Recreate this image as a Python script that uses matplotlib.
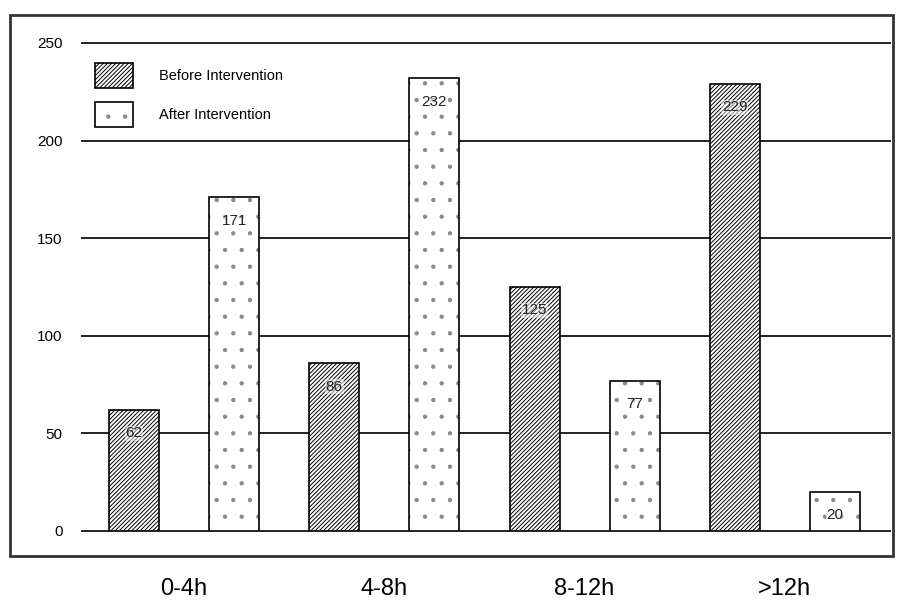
import numpy as np
import matplotlib
matplotlib.use("Agg")
import matplotlib.pyplot as plt
from matplotlib.patches import Rectangle, Patch

# ----------------------------
# Data
# ----------------------------
categories = ["0-4h", "4-8h", "8-12h", ">12h"]
before = [62, 86, 125, 229]
after = [171, 232, 77, 20]
yticks = [0, 50, 100, 150, 200, 250]

plt.rcParams.update({
    "font.family": ["Liberation Sans", "DejaVu Sans"],
    "hatch.linewidth": 0.7,
})

fig = plt.figure(figsize=(9.03, 6.09), dpi=100)
ax = fig.add_axes([82 / 903, 78 / 609, 808 / 903, 488 / 609])

x = np.arange(len(categories))
w = 0.25
HATCH_B = "////////"
HATCH_A = "."
DOT_C = "#8a8a8a"

b1 = ax.bar(x - w, before, width=w, facecolor="white", edgecolor="black",
            hatch=HATCH_B, linewidth=1.2, zorder=3)
# dotted fill drawn in grey, then a black outline on top
b2 = ax.bar(x + w, after, width=w, facecolor="white", edgecolor=DOT_C,
            hatch=HATCH_A, linewidth=0, zorder=3)
ax.bar(x + w, after, width=w, facecolor="none", edgecolor="black",
       linewidth=1.2, zorder=3.5)

# value labels near top of each bar
for bars, vals in [(b1, before), (b2, after)]:
    for rect, v in zip(bars, vals):
        ax.text(rect.get_x() + rect.get_width() / 2, v - 12, str(v),
                ha="center", va="center", fontsize=11, color="#222222", zorder=4,
                bbox=dict(facecolor="white", edgecolor="none", pad=0.5, alpha=0.5))

ax.set_xlim(-0.51, 3.525)
ax.set_ylim(0, 250)
ax.set_yticks(yticks)
ax.set_xticks(x)
ax.set_xticklabels(categories, fontsize=17)
ax.tick_params(axis="y", length=0, pad=14, labelsize=11)
ax.tick_params(axis="x", length=0, pad=34)
for s in ax.spines.values():
    s.set_visible(False)
ax.yaxis.grid(True, color="#222222", linewidth=1.4, zorder=0)
ax.set_axisbelow(True)
# keep the 0 / 250 lines at full width (not half-clipped by the axes box)
for gl in ax.get_ygridlines():
    gl.set_clip_on(False)

# legend
h_before = Patch(facecolor="white", edgecolor="black", hatch=HATCH_B, linewidth=1.2)
h_after = (Patch(facecolor="white", edgecolor=DOT_C, hatch=HATCH_A, linewidth=0),
           Patch(facecolor="none", edgecolor="black", linewidth=1.2))
ax.legend([h_before, h_after], ["Before Intervention", "After Intervention"],
          loc="upper left", bbox_to_anchor=(0.0, 0.985), frameon=False,
          fontsize=10.5, handlelength=2.6, handleheight=2.2,
          handletextpad=1.8, labelspacing=1.0)

# outer border
fig.patches.append(Rectangle((10 / 903, 53 / 609), 883 / 903, 541 / 609,
                             transform=fig.transFigure, fill=False,
                             edgecolor="#333333", linewidth=2))

fig.savefig("out.png", dpi=100)
